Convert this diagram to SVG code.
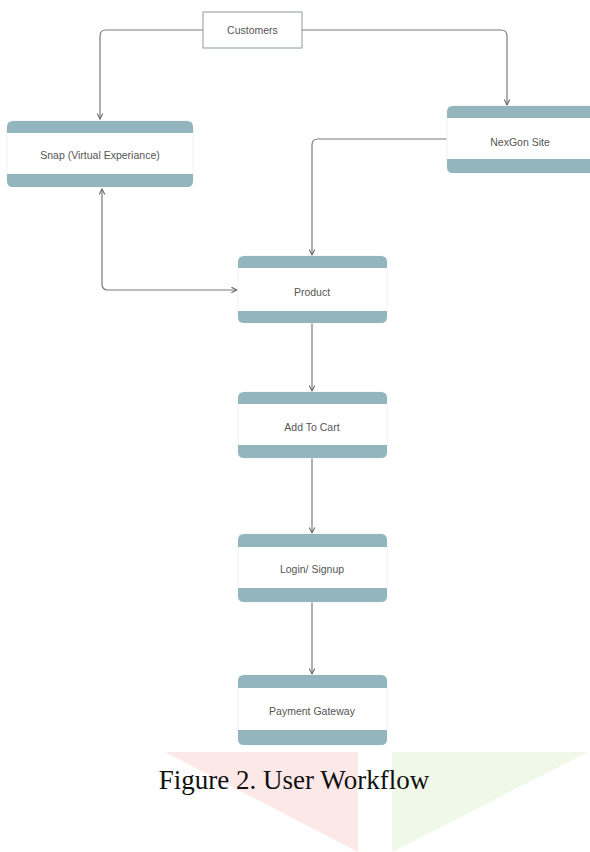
<svg xmlns="http://www.w3.org/2000/svg" width="590" height="852" viewBox="0 0 590 852">
<style>
.lbl{font-family:"Liberation Sans",Arial,sans-serif;font-size:10.5px;fill:#555;text-anchor:middle;dominant-baseline:central}
.card{fill:#fff;stroke:#eef2f3;stroke-width:1}
.bar{fill:#93b5be}
.conn{fill:none;stroke:#7a7a7a;stroke-width:1.2}
</style>
<defs>
<marker id="arr" viewBox="0 0 10 10" refX="9" refY="5" markerWidth="7" markerHeight="7" orient="auto-start-reverse" markerUnits="userSpaceOnUse">
<path d="M1,1 L9,5 L1,9" fill="none" stroke="#666" stroke-width="1.5"/>
</marker>
</defs>
<rect width="590" height="852" fill="#fff"/>
<g id="watermark">
<polygon points="165,752 358,752 358,852" fill="#fde8e8"/>
<polygon points="392,752 588,752 392,852" fill="#f0f9e8"/>
</g>
<g id="connectors">
<path class="conn" d="M203,30 H106 Q100,30 100,36 V119" marker-end="url(#arr)"/>
<path class="conn" d="M302,30 H501 Q507,30 507,36 V105" marker-end="url(#arr)"/>
<path class="conn" d="M447,139 H318 Q312,139 312,145 V255" marker-end="url(#arr)"/>
<path class="conn" d="M102,189 V284 Q102,290 108,290 H237" marker-start="url(#arr)" marker-end="url(#arr)"/>
<path class="conn" d="M312,323 V391" marker-end="url(#arr)"/>
<path class="conn" d="M312,458 V533" marker-end="url(#arr)"/>
<path class="conn" d="M312,602 V674" marker-end="url(#arr)"/>
</g>
<g id="customers">
<rect x="203" y="12" width="99" height="36" fill="#fff" stroke="#8a9a9e" stroke-width="1"/>
<text class="lbl" x="252.5" y="30">Customers</text>
</g>
<g id="snap">
<rect class="card" x="7" y="121" width="186" height="66" rx="6"/>
<path class="bar" d="M7,133 V127 Q7,121 13,121 H187 Q193,121 193,127 V133 Z"/>
<path class="bar" d="M7,174 V181 Q7,187 13,187 H187 Q193,187 193,181 V174 Z"/>
<text class="lbl" x="100" y="155">Snap (Virtual Experiance)</text>
</g>
<g id="nexgon">
<rect class="card" x="447" y="106" width="150" height="67" rx="6"/>
<path class="bar" d="M447,118 V112 Q447,106 453,106 H597 V118 Z"/>
<path class="bar" d="M447,159 V167 Q447,173 453,173 H597 V159 Z"/>
<text class="lbl" x="520" y="142">NexGon Site</text>
</g>
<g id="product">
<rect class="card" x="238" y="256" width="149" height="67" rx="6"/>
<path class="bar" d="M238,268 V262 Q238,256 244,256 H381 Q387,256 387,262 V268 Z"/>
<path class="bar" d="M238,311 V317 Q238,323 244,323 H381 Q387,323 387,317 V311 Z"/>
<text class="lbl" x="312" y="292">Product</text>
</g>
<g id="addtocart">
<rect class="card" x="238" y="392" width="149" height="66" rx="6"/>
<path class="bar" d="M238,404 V398 Q238,392 244,392 H381 Q387,392 387,398 V404 Z"/>
<path class="bar" d="M238,445 V452 Q238,458 244,458 H381 Q387,458 387,452 V445 Z"/>
<text class="lbl" x="312" y="427">Add To Cart</text>
</g>
<g id="login">
<rect class="card" x="238" y="534" width="149" height="68" rx="6"/>
<path class="bar" d="M238,547 V540 Q238,534 244,534 H381 Q387,534 387,540 V547 Z"/>
<path class="bar" d="M238,588 V596 Q238,602 244,602 H381 Q387,602 387,596 V588 Z"/>
<text class="lbl" x="312" y="569">Login/ Signup</text>
</g>
<g id="payment">
<rect class="card" x="238" y="675" width="149" height="70" rx="6"/>
<path class="bar" d="M238,688 V681 Q238,675 244,675 H381 Q387,675 387,681 V688 Z"/>
<path class="bar" d="M238,730 V739 Q238,745 244,745 H381 Q387,745 387,739 V730 Z"/>
<text class="lbl" x="312" y="711">Payment Gateway</text>
</g>
<text x="294" y="789" font-family="'Liberation Serif','Times New Roman',serif" font-size="27" fill="#111" text-anchor="middle">Figure 2. User Workflow</text>
</svg>
